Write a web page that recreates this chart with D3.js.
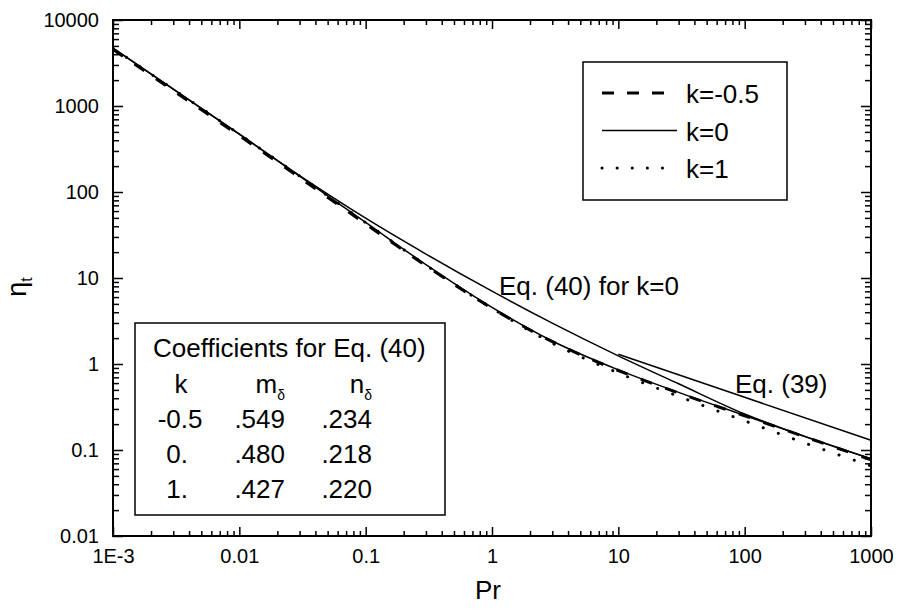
<!DOCTYPE html>
<html>
<head>
<meta charset="UTF-8">
<title>eta_t vs Pr</title>
<script src="https://d3js.org/d3.v7.min.js"></script>
<style>
  body { margin: 0; background: #fff; }
  svg { font-family: "Liberation Sans", Arial, Helvetica, sans-serif; }
</style>
</head>
<body>
<div class="canvas"></div>
<script>
// values (Pr -> eta_t)
const prValues = [0.001, 0.003, 0.01, 0.03, 0.1, 0.3, 1, 3, 10, 30, 100, 300, 1000];
const etaKm05 = [4550, 1510, 452, 147, 42.5, 13.9, 4.45, 1.82, 0.84, 0.46, 0.25, 0.142, 0.077];
const etaK0   = [4700, 1567, 470, 153, 44.3, 14.3, 4.55, 1.85, 0.855, 0.468, 0.252, 0.144, 0.079];
const etaK1   = [4700, 1567, 470, 153, 44, 14.1, 4.45, 1.75, 0.787, 0.42, 0.218, 0.1205, 0.0653];
const eq40K0  = [4700, 1567, 470, 155, 49.6, 19.0, 7.03, 2.99, 1.245, 0.589, 0.262, 0.143, 0.079];
const eq39Pr  = [10, 100, 1000];
const eq39Eta = [1.3, 0.41, 0.13];

const xMajor = [1e-3, 1e-2, 1e-1, 1, 10, 100, 1000];
const xTickLabels = ['1E-3', '0.01', '0.1', '1', '10', '100', '1000'];
const yMajor = [0.01, 0.1, 1, 10, 100, 1000, 10000];
const yTickLabels = ['0.01', '0.1', '1', '10', '100', '1000', '10000'];

const legendLabels = ['k=-0.5', 'k=0', 'k=1'];
const coefK = ['-0.5', '0.', '1.'];
const coefM = ['.549', '.480', '.427'];
const coefN = ['.234', '.218', '.220'];

const width = 901, height = 614;
const [ml, mr, mt, mb] = [113, 871, 20, 536];

const svg = d3.select('.canvas').append('svg')
  .attr('width', width)
  .attr('height', height);

const x = d3.scaleLog().domain([1e-3, 1e3]).range([ml, mr]);
const y = d3.scaleLog().domain([0.01, 1e4]).range([mb, mt]);

const isMinor = d => Math.abs(Math.log10(d) - Math.round(Math.log10(d))) > 1e-6;
const xMinor = x.ticks().filter(isMinor);
const yMinor = y.ticks().filter(isMinor);

// axes, ticks pointing inward on all four sides
function styleAxis(g) {
  g.select('.domain').remove();
  g.selectAll('.tick line').attr('stroke', '#000').attr('stroke-width', 1.5);
  g.selectAll('.tick text').attr('fill', '#000').attr('font-size', 20)
    .attr('font-family', '"Liberation Sans", Arial, sans-serif');
}

svg.append('g').attr('transform', `translate(0,${mb})`)
  .call(d3.axisBottom(x).tickValues(xMajor).tickSize(-9).tickPadding(13)
    .tickFormat((d, i) => xTickLabels[i]))
  .call(styleAxis);
svg.append('g').attr('transform', `translate(0,${mb})`)
  .call(d3.axisBottom(x).tickValues(xMinor).tickSize(-5).tickFormat(''))
  .call(styleAxis);
svg.append('g').attr('transform', `translate(0,${mt})`)
  .call(d3.axisTop(x).tickValues(xMajor).tickSize(-9).tickFormat(''))
  .call(styleAxis);
svg.append('g').attr('transform', `translate(0,${mt})`)
  .call(d3.axisTop(x).tickValues(xMinor).tickSize(-5).tickFormat(''))
  .call(styleAxis);

svg.append('g').attr('transform', `translate(${ml},0)`)
  .call(d3.axisLeft(y).tickValues(yMajor).tickSize(-10).tickPadding(14)
    .tickFormat((d, i) => yTickLabels[i]))
  .call(styleAxis);
svg.append('g').attr('transform', `translate(${ml},0)`)
  .call(d3.axisLeft(y).tickValues(yMinor).tickSize(-6).tickFormat(''))
  .call(styleAxis);
svg.append('g').attr('transform', `translate(${mr},0)`)
  .call(d3.axisRight(y).tickValues(yMajor).tickSize(-10).tickFormat(''))
  .call(styleAxis);
svg.append('g').attr('transform', `translate(${mr},0)`)
  .call(d3.axisRight(y).tickValues(yMinor).tickSize(-6).tickFormat(''))
  .call(styleAxis);

// frame
svg.append('rect')
  .attr('x', ml).attr('y', mt)
  .attr('width', mr - ml).attr('height', mb - mt)
  .attr('fill', 'none').attr('stroke', '#000').attr('stroke-width', 2);

// axis titles
svg.append('text')
  .attr('x', 488).attr('y', 599)
  .attr('text-anchor', 'middle').attr('font-size', 26)
  .text('Pr');

const yTitle = svg.append('text')
  .attr('transform', 'translate(26,287) rotate(-90)')
  .attr('text-anchor', 'middle').attr('font-size', 27);
yTitle.append('tspan').text('η');
yTitle.append('tspan').attr('font-size', 16).attr('dy', 6).text('t');

// curves
svg.append('clipPath').attr('id', 'plotClip')
  .append('rect').attr('x', ml).attr('y', mt)
  .attr('width', mr - ml).attr('height', mb - mt);

const plot = svg.append('g').attr('clip-path', 'url(#plotClip)');

const line = d3.line()
  .x(d => x(d[0]))
  .y(d => y(d[1]))
  .curve(d3.curveMonotoneX);

const series = [
  { vals: eq40K0, pr: prValues, w: 1.5, dash: null },
  { vals: eq39Eta, pr: eq39Pr, w: 1.5, dash: null },
  { vals: etaK0, pr: prValues, w: 1.5, dash: null },
  { vals: etaKm05, pr: prValues, w: 3, dash: '12,14' },
  { vals: etaK1, pr: prValues, w: 3, dash: '0.1,16', cap: 'round' }
];

series.forEach(s => {
  plot.append('path')
    .attr('d', line(s.pr.map((p, i) => [p, s.vals[i]])))
    .attr('fill', 'none')
    .attr('stroke', '#000')
    .attr('stroke-width', s.w)
    .attr('stroke-dasharray', s.dash)
    .attr('stroke-linecap', s.cap || 'butt');
});

// annotations
svg.append('text').attr('x', 499).attr('y', 295).attr('font-size', 26)
  .text('Eq. (40) for k=0');
svg.append('text').attr('x', 735).attr('y', 393).attr('font-size', 26)
  .text('Eq. (39)');

// legend
const legend = svg.append('g');
legend.append('rect')
  .attr('x', 583).attr('y', 62).attr('width', 204).attr('height', 138)
  .attr('fill', '#fff').attr('stroke', '#000').attr('stroke-width', 1.5);

const legendStyles = [
  { w: 3, dash: '12,13', x2: 667 },
  { w: 1.5, dash: null, x2: 677 },
  { w: 3, dash: '0.1,15', x2: 664, cap: 'round' }
];
legendLabels.forEach((lab, i) => {
  const ly = 93 + i * 37.5;
  const st = legendStyles[i];
  legend.append('line')
    .attr('x1', 602).attr('x2', st.x2).attr('y1', ly).attr('y2', ly)
    .attr('stroke', '#000').attr('stroke-width', st.w)
    .attr('stroke-dasharray', st.dash)
    .attr('stroke-linecap', st.cap || 'butt');
  legend.append('text')
    .attr('x', 686).attr('y', ly + 10).attr('font-size', 26)
    .text(lab);
});

// coefficient table
const table = svg.append('g');
table.append('rect')
  .attr('x', 135).attr('y', 323).attr('width', 310).attr('height', 192)
  .attr('fill', '#fff').attr('stroke', '#000').attr('stroke-width', 1.5);

table.append('text').attr('x', 153).attr('y', 357).attr('font-size', 26)
  .text('Coefficients for Eq. (40)');
table.append('text').attr('x', 181).attr('y', 393).attr('font-size', 26)
  .attr('text-anchor', 'middle').text('k');

[['m', 285], ['n', 372]].forEach(([sym, cx]) => {
  const t = table.append('text').attr('x', cx).attr('y', 393)
    .attr('font-size', 26).attr('text-anchor', 'end');
  t.append('tspan').text(sym);
  t.append('tspan').attr('font-size', 14).attr('dy', 7).text('δ');
});

coefK.forEach((k, i) => {
  const ry = 428 + i * 35;
  const dot = k.indexOf('.');
  table.append('text').attr('x', 188).attr('y', ry).attr('font-size', 26)
    .attr('text-anchor', 'end').text(k.slice(0, dot + 1));
  table.append('text').attr('x', 188).attr('y', ry).attr('font-size', 26)
    .text(k.slice(dot + 1));
  table.append('text').attr('x', 285).attr('y', ry).attr('font-size', 26)
    .attr('text-anchor', 'end').text(coefM[i]);
  table.append('text').attr('x', 372).attr('y', ry).attr('font-size', 26)
    .attr('text-anchor', 'end').text(coefN[i]);
});
</script>
</body>
</html>
